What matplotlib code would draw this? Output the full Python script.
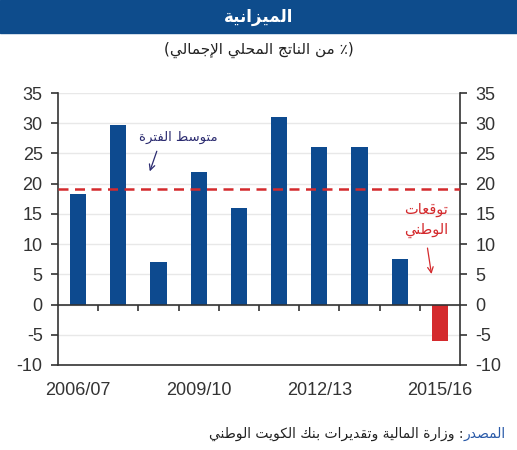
import numpy as np
import matplotlib
matplotlib.use("Agg")
from matplotlib import pyplot as plt
from matplotlib.patches import Rectangle

# data
years = ["2006/07", "2007/08", "2008/09", "2009/10", "2010/11",
         "2011/12", "2012/13", "2013/14", "2014/15", "2015/16"]
balance = [18.3, 29.7, 7.1, 21.9, 15.9, 31.0, 26.0, 26.0, 7.5, -6.1]
forecast = [False] * 9 + [True]
period_avg = 19.1
yticks = [-10, -5, 0, 5, 10, 15, 20, 25, 30, 35]
shown_years = ["2006/07", "2009/10", "2012/13", "2015/16"]

title = "الميزانية"
subtitle = "من الناتج المحلي الإجمالي"
avg_label = "متوسط الفترة"
fc_label = ["توقعات", "الوطني"]
src_head = "المصدر"
src_body = "وزارة المالية وتقديرات بنك الكويت الوطني"

BLUE = "#0d4a8f"
RED = "#d42a2d"
GREY = "#333333"

# --- minimal arabic shaping (presentation forms, visual order) ---
DUAL = {'ب': 0xFE8F, 'ت': 0xFE95, 'ث': 0xFE99, 'ج': 0xFE9D, 'ح': 0xFEA1,
        'خ': 0xFEA5, 'س': 0xFEB1, 'ش': 0xFEB5, 'ص': 0xFEB9, 'ض': 0xFEBD,
        'ط': 0xFEC1, 'ظ': 0xFEC5, 'ع': 0xFEC9, 'غ': 0xFECD, 'ف': 0xFED1,
        'ق': 0xFED5, 'ك': 0xFED9, 'ل': 0xFEDD, 'م': 0xFEE1, 'ن': 0xFEE5,
        'ه': 0xFEE9, 'ي': 0xFEF1, 'ئ': 0xFE89}
RIGHT = {'ا': 0xFE8D, 'أ': 0xFE83, 'إ': 0xFE87, 'آ': 0xFE81, 'ة': 0xFE93,
         'د': 0xFEA9, 'ذ': 0xFEAB, 'ر': 0xFEAD, 'ز': 0xFEAF, 'و': 0xFEED,
         'ى': 0xFEEF, 'ؤ': 0xFE85}
LAMALEF = {'ا': 0xFEFB, 'أ': 0xFEF7, 'إ': 0xFEF9, 'آ': 0xFEF5}


def rtl(s):
    out = []
    n = len(s)
    i = 0
    while i < n:
        c = s[i]
        prev = s[i - 1] if i > 0 else ''
        is_ar = c in DUAL or c in RIGHT
        link_prev = prev in DUAL and is_ar
        if c == 'ل' and i + 1 < n and s[i + 1] in LAMALEF:
            out.append(chr(LAMALEF[s[i + 1]] + (1 if link_prev else 0)))
            i += 2
            continue
        if not is_ar:
            out.append(c)
            i += 1
            continue
        nxt = s[i + 1] if i + 1 < n else ''
        link_next = c in DUAL and (nxt in DUAL or nxt in RIGHT)
        base = DUAL.get(c, RIGHT.get(c))
        if link_prev and link_next:
            code = base + 3
        elif link_next:
            code = base + 2
        elif link_prev:
            code = base + 1
        else:
            code = base
        out.append(chr(code))
        i += 1
    return ''.join(reversed(out))


AR = ['DejaVu Sans']
plt.rcParams['font.family'] = ['Liberation Sans', 'DejaVu Sans']
plt.rcParams['axes.unicode_minus'] = False

fig = plt.figure(figsize=(5.17, 4.5), dpi=100)
ax = fig.add_axes([0.1122, 0.1889, 0.7776, 0.6044])

# header band
fig.patches.append(Rectangle((0, 0.927), 1, 0.073, transform=fig.transFigure,
                             color="#0e4c8c", zorder=0))
fig.text(0.5, 0.963, rtl(title), color="white", fontsize=12, fontweight="bold",
         family=AR, ha="center", va="center")
fig.text(0.5, 0.889, "(" + rtl(subtitle) + " ٪)", color="#222222", fontsize=11,
         family=AR, ha="center", va="center")

x = np.arange(len(years))
colors = [RED if f else BLUE for f in forecast]
ax.bar(x, balance, width=0.4, color=colors, zorder=3)

ax.axhline(period_avg, color=RED, lw=1.8, ls=(0, (4, 2.6)), zorder=4)
ax.axhline(0, color=GREY, lw=1.2, zorder=4)
ax.vlines(x[:-1] + 0.5, -1.0, 0, color=GREY, lw=1.2, zorder=4)

ax.set_xlim(-0.5, len(years) - 0.5)
ax.set_ylim(yticks[0], yticks[-1])
ax.set_yticks(yticks)
ax.yaxis.grid(True, color="#e8e8e8", lw=1, zorder=0)
ax.set_axisbelow(True)

ax.set_xticks([years.index(y) for y in shown_years])
ax.set_xticklabels(shown_years)
ax.tick_params(axis="x", length=0, pad=12, labelsize=13, colors=GREY)
ax.tick_params(axis="y", direction="out", length=5, width=1.2, pad=6,
               labelsize=13, colors=GREY, left=True, right=True,
               labelleft=True, labelright=True)
ax.spines["top"].set_visible(False)
for s in ["left", "right", "bottom"]:
    ax.spines[s].set_color(GREY)
    ax.spines[s].set_linewidth(1.2)

# annotations
ax.text(2.5, 27.6, rtl(avg_label), color="#2b2b70", fontsize=9.5, family=AR,
        ha="center", va="center")
ax.annotate("", xy=(1.76, 21.6), xytext=(1.98, 25.8),
            arrowprops=dict(arrowstyle="->", color="#2b2b70", lw=0.9))
ax.text(8.65, 15.7, rtl(fc_label[0]), color=RED, fontsize=10.5, family=AR,
        ha="center", va="center")
ax.text(8.65, 12.3, rtl(fc_label[1]), color=RED, fontsize=10.5, family=AR,
        ha="center", va="center")
ax.annotate("", xy=(8.8, 4.6), xytext=(8.68, 9.8),
            arrowprops=dict(arrowstyle="->", color=RED, lw=0.9))

# source
head = fig.text(0.978, 0.028, rtl(src_head), color="#2a5aa8", fontsize=10,
                family=AR, ha="right", va="baseline")
ax.annotate(rtl(src_body) + " :", xy=(0, 0), xycoords=head, color="#222222",
            fontsize=10, family=AR, ha="right", va="bottom", annotation_clip=False)

fig.savefig("out.png", dpi=100)
